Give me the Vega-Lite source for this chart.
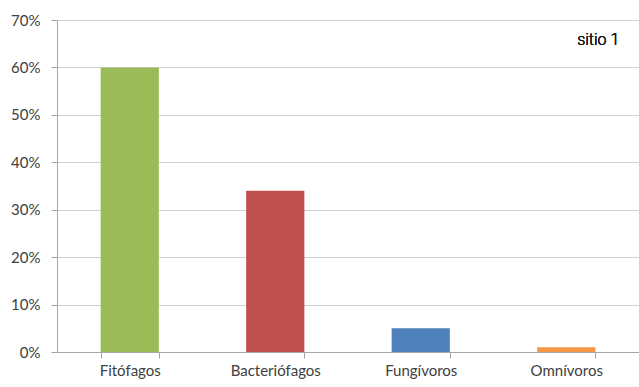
{
  "$schema": "https://vega.github.io/schema/vega-lite/v6.json",
  "autosize": "none",
  "width": 582,
  "height": 332,
  "padding": {"left": 57, "top": 20, "right": 0, "bottom": 35},
  "background": "white",
  "config": {
    "view": {"stroke": null},
    "font": "Lato"
  },
  "data": {
    "values": [
      {"grupo": "Fitófagos", "porcentaje": 0.60, "color": "#9BBB59"},
      {"grupo": "Bacteriófagos", "porcentaje": 0.34, "color": "#C0504D"},
      {"grupo": "Fungívoros", "porcentaje": 0.05, "color": "#4F81BD"},
      {"grupo": "Omnívoros", "porcentaje": 0.01, "color": "#F79646"}
    ]
  },
  "layer": [
    {
      "mark": {"type": "bar"},
      "encoding": {
        "x": {
          "field": "grupo",
          "type": "nominal",
          "sort": null,
          "scale": {"paddingInner": 0.6, "paddingOuter": 0.3},
          "axis": {
            "title": null,
            "labelAngle": 0,
            "labelFont": "Lato",
            "labelFontSize": 15,
            "labelColor": "#404040",
            "labelPadding": 5,
            "tickBand": "extent",
            "tickSize": 6,
            "tickColor": "#a6a6a6",
            "domainColor": "#a6a6a6",
            "grid": false
          }
        },
        "y": {
          "field": "porcentaje",
          "type": "quantitative",
          "scale": {"domain": [0, 0.7], "nice": false},
          "axis": {
            "title": null,
            "format": ".0%",
            "values": [0, 0.1, 0.2, 0.3, 0.4, 0.5, 0.6, 0.7],
            "labelFont": "Lato",
            "labelFontSize": 15,
            "labelColor": "#404040",
            "labelPadding": 11,
            "tickSize": 6,
            "tickColor": "#a6a6a6",
            "domainColor": "#a6a6a6",
            "gridColor": "#d0d0d0",
            "gridWidth": 1
          }
        },
        "color": {"field": "color", "type": "nominal", "scale": null, "legend": null}
      }
    },
    {
      "mark": {"type": "text", "font": "Roboto", "fontSize": 16, "fontWeight": 300, "fill": "#1a1a1a", "strokeWidth": 0, "align": "right", "baseline": "middle", "dx": 24},
      "encoding": {
        "x": {"datum": "Omnívoros", "type": "nominal", "bandPosition": 1},
        "y": {"datum": 0.658, "type": "quantitative"},
        "text": {"value": "sitio 1"}
      }
    }
  ]
}
